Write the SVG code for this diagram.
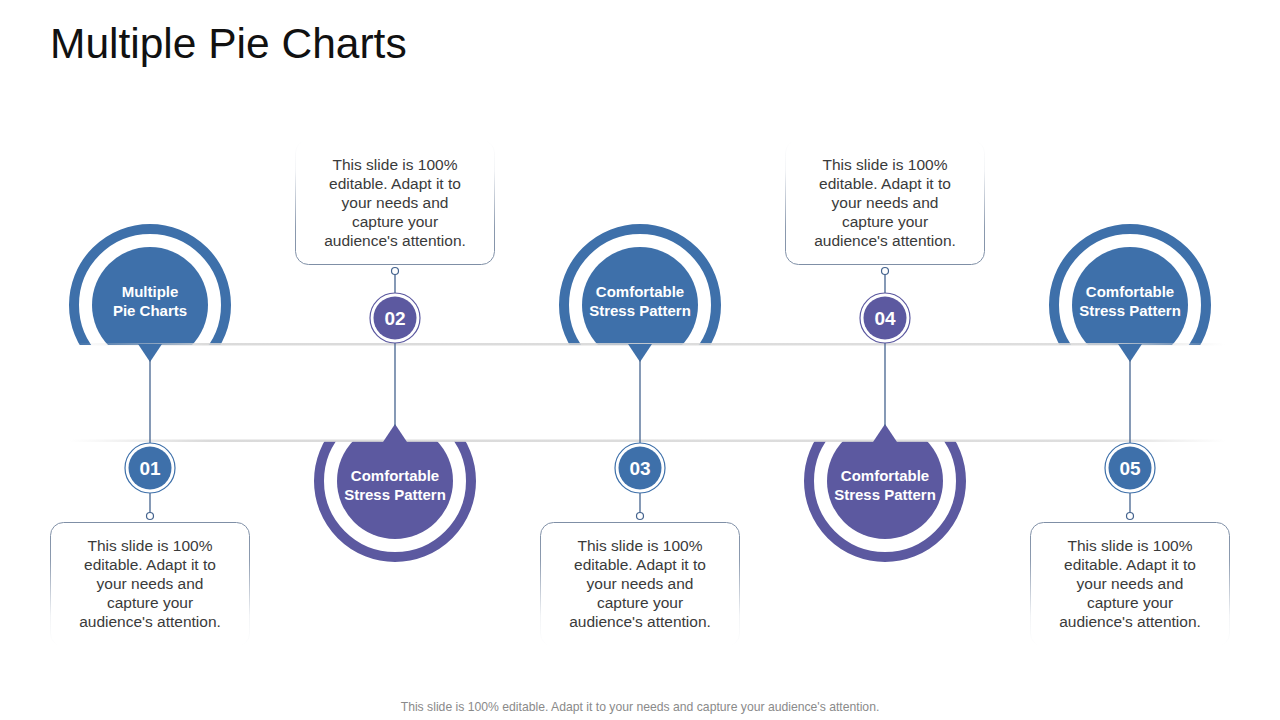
<svg xmlns="http://www.w3.org/2000/svg" width="1280" height="720" viewBox="0 0 1280 720">
<defs>
<linearGradient id="shH" x1="0" y1="0" x2="1" y2="0">
<stop offset="0" stop-color="#d4d4d4" stop-opacity="0"/>
<stop offset="0.12" stop-color="#d4d4d4" stop-opacity="0.85"/>
<stop offset="0.9" stop-color="#d8d8d8" stop-opacity="0.85"/>
<stop offset="1" stop-color="#d8d8d8" stop-opacity="0"/>
</linearGradient>
<linearGradient id="fadeUp" x1="0" y1="0" x2="0" y2="1">
<stop offset="0" stop-color="#7f8fa6" stop-opacity="0"/>
<stop offset="0.25" stop-color="#7f8fa6" stop-opacity="0.1"/>
<stop offset="0.7" stop-color="#7f8fa6" stop-opacity="0.9"/>
<stop offset="1" stop-color="#7f8fa6" stop-opacity="1"/>
</linearGradient>
<linearGradient id="fadeDown" x1="0" y1="0" x2="0" y2="1">
<stop offset="0" stop-color="#7f8fa6" stop-opacity="1"/>
<stop offset="0.3" stop-color="#7f8fa6" stop-opacity="0.9"/>
<stop offset="0.75" stop-color="#7f8fa6" stop-opacity="0.1"/>
<stop offset="1" stop-color="#7f8fa6" stop-opacity="0"/>
</linearGradient>
</defs>
<style>
.title{font-family:"Liberation Sans",Arial,sans-serif;font-size:42.5px;fill:#111}
.body{font-family:"Liberation Sans",Arial,sans-serif;font-size:15.5px;fill:#3a3a3a;text-anchor:middle}
.lbl{font-family:"Liberation Sans",Arial,sans-serif;font-size:15px;font-weight:bold;fill:#fff;text-anchor:middle}
.num{font-family:"Liberation Sans",Arial,sans-serif;font-size:19px;font-weight:bold;fill:#fff;text-anchor:middle}
.foot{font-family:"Liberation Sans",Arial,sans-serif;font-size:12.2px;fill:#8a8a8a;text-anchor:middle}
.blue{fill:#3e70aa}
.purple{fill:#5c59a0}
.ringB{fill:none;stroke:#3e70aa;stroke-width:10}
.ringP{fill:none;stroke:#5c59a0;stroke-width:10}
.conn{stroke:#44638e;stroke-width:1.3;fill:none}
.dot{fill:#fff;stroke:#44638e;stroke-width:1.2}
.oring{fill:#fff;stroke-width:1.2}
</style>
<rect width="1280" height="720" fill="#fff"/>
<text class="title" x="50" y="58">Multiple Pie Charts</text>

<g id="big-circles">
<g id="c1"><circle class="ringB" cx="150" cy="305" r="76"/><circle class="blue" cx="150" cy="305" r="58"/></g>
<g id="c3"><circle class="ringB" cx="640" cy="305" r="76"/><circle class="blue" cx="640" cy="305" r="58"/></g>
<g id="c5"><circle class="ringB" cx="1130" cy="305" r="76"/><circle class="blue" cx="1130" cy="305" r="58"/></g>
<g id="c2"><circle class="ringP" cx="395" cy="481" r="76"/><circle class="purple" cx="395" cy="481" r="58"/></g>
<g id="c4"><circle class="ringP" cx="885" cy="481" r="76"/><circle class="purple" cx="885" cy="481" r="58"/></g>
</g>

<g id="band">
<rect x="30" y="345" width="1220" height="96" fill="#fff"/>
<rect x="70" y="343" width="1155" height="2.5" fill="url(#shH)"/>
<rect x="70" y="439.5" width="1155" height="2.5" fill="url(#shH)"/>
</g>

<g id="pointers">
<polygon class="blue" points="138,344 162,344 150,362"/>
<polygon class="blue" points="628,344 652,344 640,362"/>
<polygon class="blue" points="1118,344 1142,344 1130,362"/>
<polygon class="purple" points="383,442 407,442 395,424"/>
<polygon class="purple" points="873,442 897,442 885,424"/>
</g>

<g id="connectors">
<line class="conn" x1="150" y1="360" x2="150" y2="443"/>
<line class="conn" x1="150" y1="493" x2="150" y2="513"/>
<line class="conn" x1="395" y1="274" x2="395" y2="293"/>
<line class="conn" x1="395" y1="343" x2="395" y2="426"/>
<line class="conn" x1="640" y1="360" x2="640" y2="443"/>
<line class="conn" x1="640" y1="493" x2="640" y2="513"/>
<line class="conn" x1="885" y1="274" x2="885" y2="293"/>
<line class="conn" x1="885" y1="343" x2="885" y2="426"/>
<line class="conn" x1="1130" y1="360" x2="1130" y2="443"/>
<line class="conn" x1="1130" y1="493" x2="1130" y2="513"/>
</g>

<g id="n01"><circle class="oring" cx="150" cy="468" r="25" stroke="#3e70aa"/><circle class="blue" cx="150" cy="468" r="21.5"/><text class="num" x="150" y="475">01</text><circle class="dot" cx="150" cy="516" r="3.5"/></g>
<g id="n02"><circle class="oring" cx="395" cy="318" r="25" stroke="#5c59a0"/><circle class="purple" cx="395" cy="318" r="21.5"/><text class="num" x="395" y="325">02</text><circle class="dot" cx="395" cy="271" r="3.5"/></g>
<g id="n03"><circle class="oring" cx="640" cy="468" r="25" stroke="#3e70aa"/><circle class="blue" cx="640" cy="468" r="21.5"/><text class="num" x="640" y="475">03</text><circle class="dot" cx="640" cy="516" r="3.5"/></g>
<g id="n04"><circle class="oring" cx="885" cy="318" r="25" stroke="#5c59a0"/><circle class="purple" cx="885" cy="318" r="21.5"/><text class="num" x="885" y="325">04</text><circle class="dot" cx="885" cy="271" r="3.5"/></g>
<g id="n05"><circle class="oring" cx="1130" cy="468" r="25" stroke="#3e70aa"/><circle class="blue" cx="1130" cy="468" r="21.5"/><text class="num" x="1130" y="475">05</text><circle class="dot" cx="1130" cy="516" r="3.5"/></g>

<g id="labels">
<text class="lbl" x="150" y="297">Multiple</text><text class="lbl" x="150" y="316">Pie Charts</text>
<text class="lbl" x="640" y="297">Comfortable</text><text class="lbl" x="640" y="316">Stress Pattern</text>
<text class="lbl" x="1130" y="297">Comfortable</text><text class="lbl" x="1130" y="316">Stress Pattern</text>
<text class="lbl" x="395" y="481">Comfortable</text><text class="lbl" x="395" y="500">Stress Pattern</text>
<text class="lbl" x="885" y="481">Comfortable</text><text class="lbl" x="885" y="500">Stress Pattern</text>
</g>

<g id="box02"><rect x="295.5" y="140" width="199" height="124.5" rx="13" fill="none" stroke="url(#fadeUp)" stroke-width="1"/>
<text class="body"><tspan x="395" y="170">This slide is 100%</tspan><tspan x="395" y="189">editable. Adapt it to</tspan><tspan x="395" y="208">your needs and</tspan><tspan x="395" y="227">capture your</tspan><tspan x="395" y="246">audience's attention.</tspan></text></g>
<g id="box04"><rect x="785.5" y="140" width="199" height="124.5" rx="13" fill="none" stroke="url(#fadeUp)" stroke-width="1"/>
<text class="body"><tspan x="885" y="170">This slide is 100%</tspan><tspan x="885" y="189">editable. Adapt it to</tspan><tspan x="885" y="208">your needs and</tspan><tspan x="885" y="227">capture your</tspan><tspan x="885" y="246">audience's attention.</tspan></text></g>
<g id="box01"><rect x="50.5" y="522.5" width="199" height="124" rx="13" fill="none" stroke="url(#fadeDown)" stroke-width="1"/>
<text class="body"><tspan x="150" y="551">This slide is 100%</tspan><tspan x="150" y="570">editable. Adapt it to</tspan><tspan x="150" y="589">your needs and</tspan><tspan x="150" y="608">capture your</tspan><tspan x="150" y="627">audience's attention.</tspan></text></g>
<g id="box03"><rect x="540.5" y="522.5" width="199" height="124" rx="13" fill="none" stroke="url(#fadeDown)" stroke-width="1"/>
<text class="body"><tspan x="640" y="551">This slide is 100%</tspan><tspan x="640" y="570">editable. Adapt it to</tspan><tspan x="640" y="589">your needs and</tspan><tspan x="640" y="608">capture your</tspan><tspan x="640" y="627">audience's attention.</tspan></text></g>
<g id="box05"><rect x="1030.5" y="522.5" width="199" height="124" rx="13" fill="none" stroke="url(#fadeDown)" stroke-width="1"/>
<text class="body"><tspan x="1130" y="551">This slide is 100%</tspan><tspan x="1130" y="570">editable. Adapt it to</tspan><tspan x="1130" y="589">your needs and</tspan><tspan x="1130" y="608">capture your</tspan><tspan x="1130" y="627">audience's attention.</tspan></text></g>

<text class="foot" x="640" y="711">This slide is 100% editable. Adapt it to your needs and capture your audience's attention.</text>
</svg>
